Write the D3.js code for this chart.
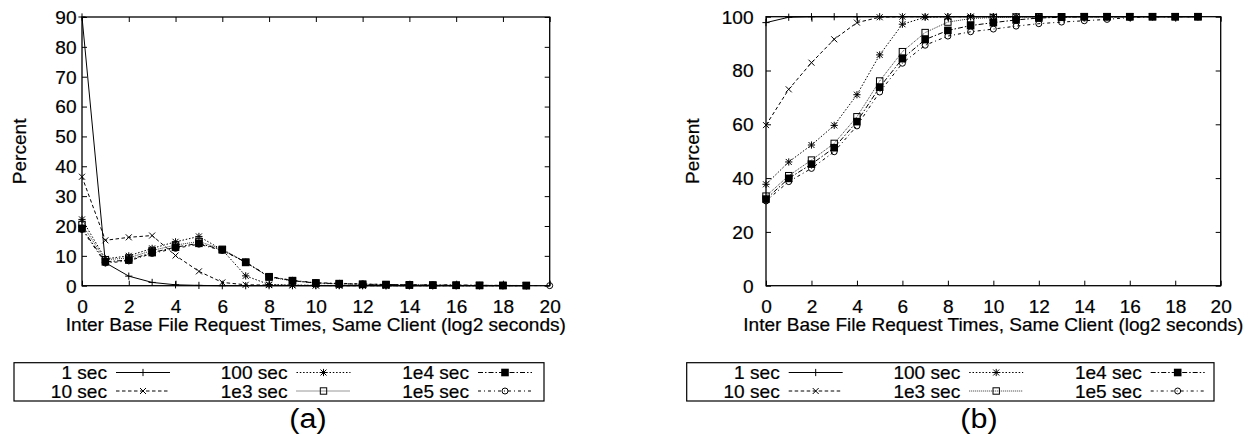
<!DOCTYPE html>
<html><head><meta charset="utf-8">
<script src="https://cdn.jsdelivr.net/npm/d3@7"></script>
<style>
body{margin:0;background:#fff}
svg{display:block;background:#fff}
text{font-family:"Liberation Sans",Arial,sans-serif;fill:#000;stroke:#000;stroke-width:0.2px}
text.tag{stroke:none}
</style>
</head><body>
<svg id="c" width="1254" height="435"></svg>
<script>
// ---------- data ----------
const seriesNames = ["1 sec", "10 sec", "100 sec", "1e3 sec", "1e4 sec", "1e5 sec"];
const xTicks = [0, 2, 4, 6, 8, 10, 12, 14, 16, 18, 20];
const yTicksA = [0, 10, 20, 30, 40, 50, 60, 70, 80, 90];
const yTicksB = [0, 20, 40, 60, 80, 100];
const xTitle = "Inter Base File Request Times, Same Client (log2 seconds)";
const yTitle = "Percent";

// (a) distribution, x = 0,1,2,...
const pdf1s   = [90, 7.7, 3.2, 1.1, 0.3, 0.1, 0, 0, 0, 0, 0, 0, 0, 0, 0, 0, 0, 0, 0, 0];
const pdf10s  = [36.5, 15.2, 16.2, 16.8, 10.1, 4.8, 1.1, 0.3, 0.2, 0.1, 0.1, 0, 0, 0, 0, 0, 0, 0, 0, 0];
const pdf100s = [22.2, 9.0, 10.0, 12.5, 14.7, 16.5, 12.0, 3.3, 0.4, 0.2, 0.1, 0.1, 0.05, 0, 0, 0, 0, 0, 0, 0];
const pdf1e3  = [20.5, 8.7, 9.3, 11.8, 13.6, 14.8, 12.2, 7.9, 2.9, 1.6, 0.9, 0.6, 0.4, 0.3, 0.2, 0.2, 0.1, 0.1, 0.05, 0.05];
const pdf1e4  = [19.2, 8.0, 8.6, 11.1, 12.9, 14.2, 12.0, 7.8, 3.0, 1.7, 0.9, 0.7, 0.5, 0.4, 0.3, 0.2, 0.2, 0.1, 0.1, 0.05];
const pdf1e5  = [18.8, 7.6, 8.3, 10.8, 12.5, 13.9, 11.8, 7.9, 3.1, 1.8, 1.0, 0.8, 0.6, 0.4, 0.3, 0.3, 0.2, 0.1, 0.1, 0.05, 0.02];

// (b) cumulative, x = 0,1,2,...
const cdf1s   = [97.8, 99.8, 100, 100, 100, 100, 100, 100, 100, 100, 100, 100, 100, 100, 100, 100, 100, 100, 100, 100];
const cdf10s  = [59.7, 73.0, 82.9, 91.6, 97.8, 99.8, 100, 100, 100, 100, 100, 100, 100, 100, 100, 100, 100, 100, 100, 100];
const cdf100s = [37.7, 46.0, 52.3, 59.6, 71.0, 85.8, 97.2, 99.8, 100, 100, 100, 100, 100, 100, 100, 100, 100, 100, 100, 100];
const cdf1e3  = [33.3, 40.9, 46.7, 52.9, 62.8, 76.1, 87.0, 94.1, 98.0, 99.3, 99.7, 99.9, 100, 100, 100, 100, 100, 100, 100, 100];
const cdf1e4  = [32.2, 39.9, 45.2, 51.3, 61.0, 73.8, 84.4, 91.5, 94.9, 96.7, 97.8, 98.8, 99.5, 99.8, 100, 100, 100, 100, 100, 100];
const cdf1e5  = [31.5, 38.7, 43.6, 49.8, 59.4, 72.0, 82.7, 89.4, 92.8, 94.4, 95.4, 96.5, 97.4, 98.0, 98.5, 99.0, 99.7, 100, 100, 100];

// ---------- styles ----------
const dashes = [null, "3.5,2.5", "1.5,1.8", "1,1", "5,2,1.5,2", "3,3,1,3"];
const strokeCol = ["#000", "#000", "#000", "#333", "#000", "#000"];
const FS = 17.5;
const SX = 1.09;

const svg = d3.select("#c");

function label(g, x, y, str, anchor, size, rot) {
  return g.append("text")
    .attr("transform", `translate(${x},${y})${rot ? ` rotate(${rot})` : ""} scale(${SX},1)`)
    .attr("text-anchor", anchor).attr("font-size", size || FS).text(str);
}

function marker(g, type, x, y) {
  const s = 3.6;
  if (type === 0) {
    g.append("path").attr("d", `M${x-s},${y}H${x+s}M${x},${y-s}V${y+s}`).attr("stroke", "#000").attr("stroke-width", 1);
  } else if (type === 1) {
    g.append("path").attr("d", `M${x-3},${y-3}L${x+3},${y+3}M${x-3},${y+3}L${x+3},${y-3}`).attr("stroke", "#000").attr("stroke-width", 1);
  } else if (type === 2) {
    g.append("path").attr("d", `M${x-s},${y}H${x+s}M${x},${y-s}V${y+s}M${x-3},${y-3}L${x+3},${y+3}M${x-3},${y+3}L${x+3},${y-3}`).attr("stroke", "#000").attr("stroke-width", 1);
  } else if (type === 3) {
    g.append("rect").attr("x", x-3.2).attr("y", y-3.2).attr("width", 6.4).attr("height", 6.4).attr("fill", "none").attr("stroke", "#000").attr("stroke-width", 1);
  } else if (type === 4) {
    g.append("rect").attr("x", x-3.8).attr("y", y-3.8).attr("width", 7.6).attr("height", 7.6).attr("fill", "#000");
  } else {
    g.append("circle").attr("cx", x).attr("cy", y).attr("r", 3).attr("fill", "none").attr("stroke", "#000").attr("stroke-width", 1);
  }
}

function panel(cfg) {
  const g = svg.append("g");
  const x = d3.scaleLinear().domain([0, 20]).range([cfg.left, cfg.right]);
  const y = d3.scaleLinear().domain([0, cfg.ymax]).range([cfg.bottom, cfg.top]);

  const ax = (a, tr) => {
    const el = g.append("g").attr("transform", tr).call(a);
    el.select(".domain").remove();
    el.selectAll("line").attr("stroke", "#000").attr("stroke-width", 1);
    el.selectAll("text").attr("font-size", FS).attr("font-family", '"Liberation Sans",Arial,sans-serif')
      .attr("fill", "#000");
    return el;
  };
  const bx = ax(d3.axisBottom(x).tickValues(xTicks).tickSize(-5).tickPadding(0), `translate(0,${cfg.bottom})`);
  bx.selectAll("text").attr("y", null).attr("dy", null)
    .attr("transform", `translate(0,${312.6 - cfg.bottom}) scale(${SX},1)`);
  ax(d3.axisTop(x).tickValues(xTicks).tickSize(-5).tickFormat(""), `translate(0,${cfg.top})`);
  const lx = ax(d3.axisLeft(y).tickValues(cfg.yTicks).tickSize(-5).tickPadding(0), `translate(${cfg.left},0)`);
  lx.selectAll("text").attr("x", null).attr("dy", null)
    .attr("transform", `translate(${-cfg.yPad},6.3) scale(${SX},1)`);
  ax(d3.axisRight(y).tickValues(cfg.yTicks).tickSize(-5).tickFormat(""), `translate(${cfg.right},0)`);

  // series
  const line = d3.line().x((d, i) => x(i)).y(d => y(d));
  cfg.data.forEach((arr, si) => {
    g.append("path").attr("d", line(arr)).attr("fill", "none")
      .attr("stroke", strokeCol[si]).attr("stroke-width", 1)
      .attr("stroke-dasharray", dashes[si]);
    arr.forEach((v, i) => marker(g, si, x(i), y(v)));
  });

  // frame
  g.append("rect").attr("x", cfg.left).attr("y", cfg.top)
    .attr("width", cfg.right - cfg.left).attr("height", cfg.bottom - cfg.top)
    .attr("fill", "none").attr("stroke", "#000").attr("stroke-width", 1.3);

  // titles
  label(g, (cfg.left + cfg.right) / 2, 330.8, xTitle, "middle");
  label(g, cfg.percentX + 6.2, (cfg.top + cfg.bottom) / 2, yTitle, "middle", FS, -90);

  // legend
  const L = cfg.legendX, LT = 362.7;
  g.append("rect").attr("x", L).attr("y", LT).attr("width", cfg.legendW).attr("height", 38.3)
    .attr("fill", "none").attr("stroke", "#000").attr("stroke-width", 1.2);
  const colOff = [93, 273.5, 455];
  seriesNames.forEach((name, si) => {
    const col = Math.floor(si / 2), row = si % 2;
    const tr = L + colOff[col];
    const base = row === 0 ? 379.4 : 398.2;
    const ly = row === 0 ? 372.5 : 391;
    label(g, tr, base, name, "end");
    g.append("line").attr("x1", tr + 9).attr("x2", tr + 63).attr("y1", ly).attr("y2", ly)
      .attr("stroke", strokeCol[si]).attr("stroke-width", 1).attr("stroke-dasharray", dashes[si]);
    marker(g, si, tr + 36, ly);
  });

  // tag
  label(g, cfg.tagX, 428, cfg.tag, "middle", 28).attr("class", "tag");
}

panel({left: 82, right: 549.7, top: 17, bottom: 285.7, ymax: 90, yTicks: yTicksA, yPad: 5.5,
       data: [pdf1s, pdf10s, pdf100s, pdf1e3, pdf1e4, pdf1e5],
       percentX: 20, legendX: 14, legendW: 530, tag: "(a)", tagX: 308});
panel({left: 766, right: 1220.7, top: 16.7, bottom: 285.7, ymax: 100, yTicks: yTicksB, yPad: 12.5,
       data: [cdf1s, cdf10s, cdf100s, cdf1e3, cdf1e4, cdf1e5],
       percentX: 693, legendX: 686.7, legendW: 527.3, tag: "(b)", tagX: 979});
</script>
</body></html>
